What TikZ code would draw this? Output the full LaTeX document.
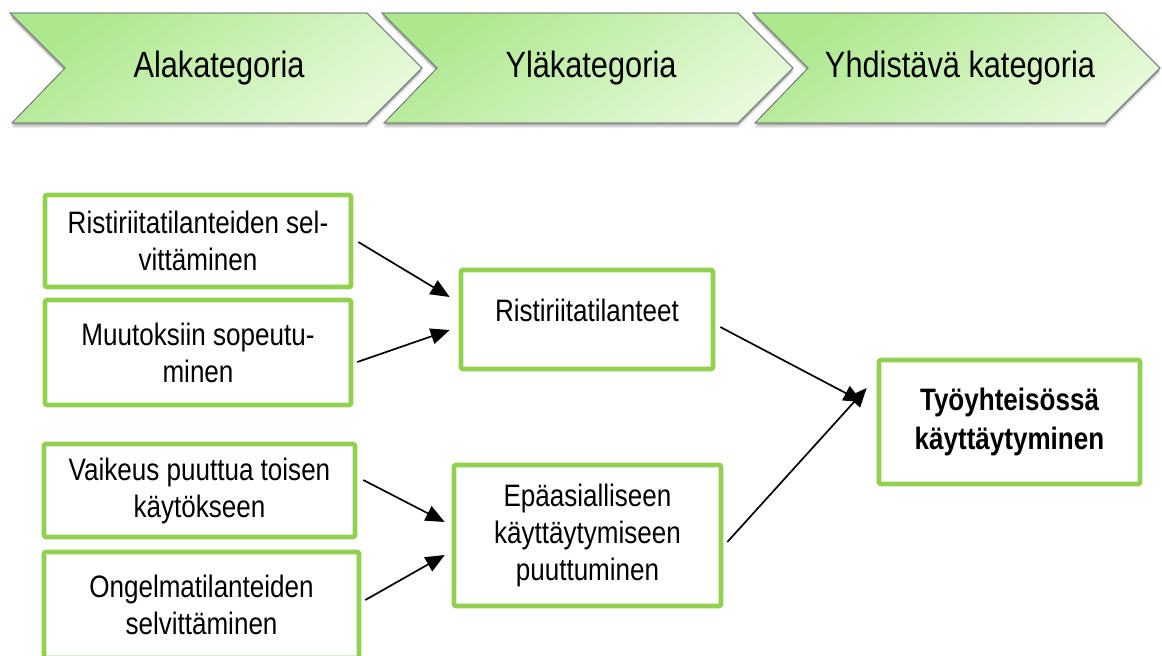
\documentclass[tikz,border=0pt]{standalone}
\usepackage{fontspec}
\setmainfont{Liberation Sans}[FakeStretch=0.84]
\usetikzlibrary{arrows.meta,calc}
\definecolor{boxgreen}{RGB}{146,208,80}
\definecolor{chevA}{RGB}{172,232,140}
\definecolor{chevB}{RGB}{230,249,218}
\definecolor{chevline}{RGB}{120,130,120}
\tikzset{
  catbox/.style={draw=boxgreen, line width=2.3pt, rounded corners=1pt, fill=white,
    inner sep=0pt, align=center, font=\fontsize{15.5}{18.5}\selectfont},
  chevtext/.style={inner sep=0pt, font=\fontsize{18.3}{21}\selectfont},
  link/.style={draw=black, line width=0.85pt, -{Triangle[length=9.5pt,width=8pt]}},
  chevfill/.style={draw=chevline, line width=0.4pt, top color=chevA, bottom color=chevB, shading angle=35},
}
\begin{document}
\begin{tikzpicture}[x=0.5pt,y=-0.5pt]
\useasboundingbox (0,0) rectangle (1162,655);
% chevrons
\foreach \xo/\w in {10/357, 382/356, 753/352}{
  \foreach \dy/\op in {2/0.18, 3.5/0.12, 5/0.07}{
    \fill[black, opacity=\op] (\xo,13+\dy) -- (\xo+\w,13+\dy) -- (\xo+\w+55,68+\dy) -- (\xo+\w,123+\dy) -- (\xo+2,123+\dy) -- (\xo+55,68+\dy) -- cycle;
  }
  \shade[chevfill] (\xo,13) -- (\xo+\w,13) -- (\xo+\w+55,68) -- (\xo+\w,123) -- (\xo+2,123) -- (\xo+55,68) -- cycle;
  \draw[chevline, line width=0.4pt] (\xo,13) -- (\xo+\w,13) -- (\xo+\w+55,68) -- (\xo+\w,123) -- (\xo+2,123) -- (\xo+55,68) -- cycle;
}
\node[chevtext] (c1) at (219,68) {Alakategoria};
\node[chevtext] (c2) at (591,68) {Yläkategoria};
\node[chevtext] (c3) at (960,68) {Yhdistävä kategoria};
% boxes
\node[catbox, minimum width=306*0.5pt, minimum height=92*0.5pt] (b1) at (198,241) {Ristiriitatilanteiden sel-\\vittäminen};
\node[catbox, minimum width=306*0.5pt, minimum height=105*0.5pt] (b2) at (198,352.5) {Muutoksiin sopeutu-\\minen};
\node[catbox, minimum width=311*0.5pt, minimum height=93*0.5pt] (b3) at (199.5,490.5) {Vaikeus puuttua toisen\\käytökseen};
\node[catbox, minimum width=315*0.5pt, minimum height=106*0.5pt] (b4) at (201.5,605) {Ongelmatilanteiden\\selvittäminen};
\node[catbox, minimum width=252*0.5pt, minimum height=99*0.5pt, text depth=9pt] (r) at (587,319.5) {Ristiriitatilanteet};
\node[catbox, minimum width=267*0.5pt, minimum height=141*0.5pt] (e) at (587.5,535.5) {Epäasialliseen\\käyttäytymiseen\\puuttuminen};
\node[catbox, minimum width=261*0.5pt, minimum height=124*0.5pt, font=\bfseries\fontsize{15.5}{19.5}\selectfont] (t) at (1009.5,422) {Työyhteisössä\\käyttäytyminen};
% connectors
\draw[link] ($(b1.east)+(5,1)$) -- ($(r.west)+(-9,-22.5)$);
\draw[link] ($(b2.east)+(4,9.5)$) -- ($(r.west)+(-9,10.5)$);
\draw[link] ($(b3.east)+(6,-10.5)$) -- ($(e.west)+(-7,-13.5)$);
\draw[link] ($(b4.east)+(4,-5)$) -- ($(e.west)+(-7,19.5)$);
\draw[link] ($(r.east)+(5,7.5)$) -- ($(t.west)+(-14,-20)$);
\draw[link] ($(e.east)+(4,6.5)$) -- ($(t.west)+(-10,-34)$);
\end{tikzpicture}
\end{document}
